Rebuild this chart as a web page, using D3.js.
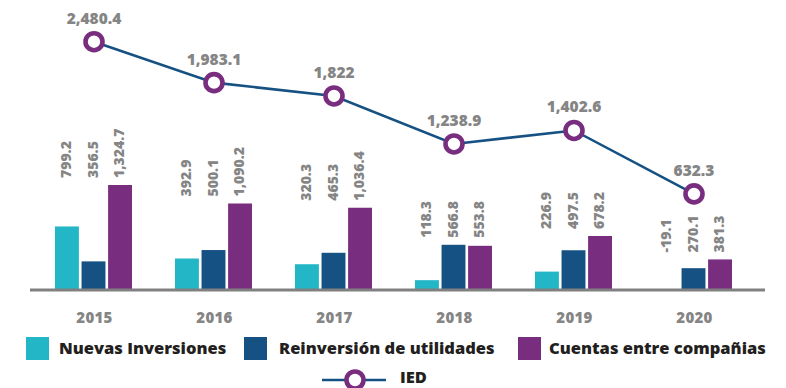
<!DOCTYPE html>
<html>
<head>
<meta charset="utf-8">
<script src="https://cdn.jsdelivr.net/npm/d3@7"></script>
<style>
  html, body { margin: 0; padding: 0; background: #fff; }
  svg { display: block; font-family: "Open Sans", Lato, sans-serif; }
</style>
</head>
<body>
<svg id="chart" width="786" height="388"></svg>
<script>
// Years and the three components of foreign direct investment
const years = ["2015", "2016", "2017", "2018", "2019", "2020"];
const nuevasInversiones = [799.2, 392.9, 320.3, 118.3, 226.9, -19.1];
const reinversion = [356.5, 500.1, 465.3, 566.8, 497.5, 270.1];
const cuentas = [1324.7, 1090.2, 1036.4, 553.8, 678.2, 381.3];
// Total IED
const ied = [2480.4, 1983.1, 1822, 1238.9, 1402.6, 632.3];

const seriesLabels = ["Nuevas Inversiones", "Reinversión de utilidades", "Cuentas entre compañias"];
const colors = ["#22b6c7", "#155182", "#792d7e"];
const lineColor = "#155182";
const markerColor = "#792d7e";
const labelGray = "#858585";
const W = 800;

const svg = d3.select("#chart");
const fmt = v => d3.format(",")(v).replace("−", "-");

const seriesData = [nuevasInversiones, reinversion, cuentas];

// Group centres along the axis
const x0 = d3.scalePoint().domain(years).range([94, 694]);
const x1 = d3.scaleBand().domain(d3.range(3)).range([-39, 38]).paddingInner(0.1);

// Bars and the IED line use separate vertical scales
const yBar = d3.scaleLinear().domain([0, 1324.7]).range([289.5, 185]);
const yLine = d3.scaleLinear().domain([0, 2480.4]).range([246, 41.7]);

// Bars
const groups = svg.append("g").selectAll("g")
  .data(years).join("g")
  .attr("transform", d => `translate(${x0(d)},0)`);

groups.selectAll("rect")
  .data((d, i) => seriesData.map((s, k) => ({ k, v: s[i] })))
  .join("rect")
  .attr("x", d => x1(d.k))
  .attr("width", x1.bandwidth())
  .attr("y", d => Math.min(yBar(d.v), yBar(0)))
  .attr("height", d => Math.abs(yBar(d.v) - yBar(0)))
  .attr("fill", d => colors[d.k]);

// Rotated value labels above each group
groups.each(function (yr, i) {
  const vals = seriesData.map(s => s[i]);
  const top = yBar(d3.max(vals)) - 7;
  d3.select(this).selectAll("text.val")
    .data(vals.map((v, k) => ({ k, v })))
    .join("text")
    .attr("class", "val")
    .attr("transform", d => `translate(${x1(d.k) + x1.bandwidth() / 2 - 1},${top}) rotate(-90)`)
    .attr("dy", "0.36em")
    .attr("text-anchor", "start")
    .attr("font-size", 14)
    .attr("font-weight", W)
    .attr("fill", labelGray)
    .text(d => fmt(d.v));
});

// Baseline axis
svg.append("line")
  .attr("x1", 30).attr("x2", 765)
  .attr("y1", yBar(0) + 0.5).attr("y2", yBar(0) + 0.5)
  .attr("stroke", "#808080").attr("stroke-width", 3.2);

// Year labels
const xAxis = d3.axisBottom(x0).tickSize(0).tickPadding(0);
const ax = svg.append("g").attr("transform", `translate(0,${yBar(0) + 29})`).call(xAxis);
ax.select(".domain").remove();
ax.selectAll("text")
  .attr("font-family", "'Open Sans', sans-serif")
  .attr("font-size", 15)
  .attr("font-weight", W)
  .attr("fill", labelGray)
  .attr("letter-spacing", "0.3")
  .attr("dy", "0.3em");

// IED line
const line = d3.line().x((d, i) => x0(years[i])).y(d => yLine(d));
svg.append("path")
  .datum(ied)
  .attr("d", line)
  .attr("fill", "none")
  .attr("stroke", lineColor)
  .attr("stroke-width", 2.6);

svg.append("g").selectAll("circle")
  .data(ied).join("circle")
  .attr("cx", (d, i) => x0(years[i]))
  .attr("cy", d => yLine(d))
  .attr("r", 8.5)
  .attr("fill", "#fff")
  .attr("stroke", markerColor)
  .attr("stroke-width", 4.6);

svg.append("g").selectAll("text")
  .data(ied).join("text")
  .attr("x", (d, i) => x0(years[i]))
  .attr("y", d => yLine(d) - 18)
  .attr("text-anchor", "middle")
  .attr("font-size", 15.5)
  .attr("font-weight", W)
  .attr("fill", labelGray)
  .text(d => fmt(d));

// Legend
const legendItems = [
  { k: 0, sx: 26, tx: 59 },
  { k: 1, sx: 244, tx: 279 },
  { k: 2, sx: 518, tx: 549 }
];
const leg = svg.append("g");
leg.selectAll("rect").data(legendItems).join("rect")
  .attr("x", d => d.sx).attr("y", 337)
  .attr("width", 23).attr("height", 23)
  .attr("fill", d => colors[d.k]);
leg.selectAll("text").data(legendItems).join("text")
  .attr("x", d => d.tx).attr("y", 354)
  .attr("font-size", 16.5)
  .attr("font-weight", W)
  .attr("fill", "#231f20")
  .text(d => seriesLabels[d.k]);

leg.append("line")
  .attr("x1", 322).attr("x2", 386).attr("y1", 380).attr("y2", 380)
  .attr("stroke", lineColor).attr("stroke-width", 2.6);
leg.append("circle")
  .attr("cx", 355).attr("cy", 380).attr("r", 8.5)
  .attr("fill", "#fff").attr("stroke", markerColor).attr("stroke-width", 4.6);
leg.append("text")
  .attr("x", 400).attr("y", 382.5)
  .attr("font-size", 16.5)
  .attr("font-weight", W)
  .attr("fill", "#231f20")
  .text("IED");
</script>
</body>
</html>
